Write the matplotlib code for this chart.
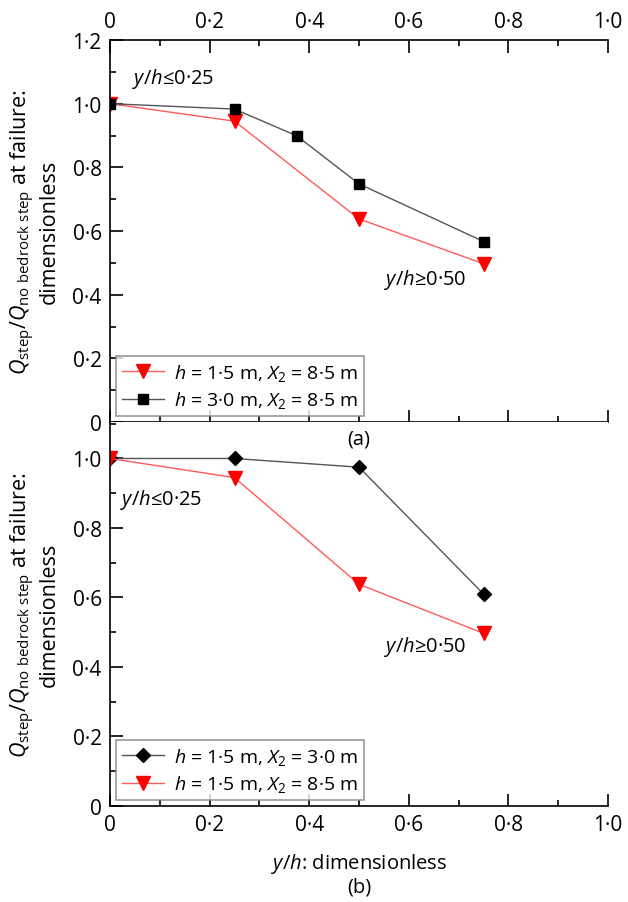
import matplotlib
matplotlib.use("Agg")
import matplotlib.pyplot as plt
from matplotlib.ticker import MultipleLocator, FuncFormatter

plt.rcParams['font.family'] = ['Open Sans', 'DejaVu Sans']
plt.rcParams['mathtext.fontset'] = 'custom'
plt.rcParams['mathtext.rm'] = 'Open Sans'
plt.rcParams['mathtext.it'] = 'Open Sans:italic'
plt.rcParams['font.size'] = 15

# panel (a)
a_x_red = [0, 0.25, 0.5, 0.75]
a_y_red = [1.0, 0.945, 0.638, 0.497]
a_x_blk = [0, 0.25, 0.375, 0.5, 0.75]
a_y_blk = [1.0, 0.983, 0.899, 0.748, 0.567]
a_labels = [r'$h$ = 1·5 m, $X_2$ = 8·5 m', r'$h$ = 3·0 m, $X_2$ = 8·5 m']

# panel (b)
b_x_dia = [0, 0.25, 0.5, 0.75]
b_y_dia = [1.0, 1.0, 0.975, 0.61]
b_x_red = [0, 0.25, 0.5, 0.75]
b_y_red = [1.0, 0.945, 0.638, 0.497]
b_labels = [r'$h$ = 1·5 m, $X_2$ = 3·0 m', r'$h$ = 1·5 m, $X_2$ = 8·5 m']

ylab = '$Q_{\\rm step}/Q_{\\rm no\\ bedrock\\ step}$ at failure:\ndimensionless'


def fmt(v, pos):
    if abs(v) < 1e-9:
        return '0'
    return ('%.1f' % v).replace('.', '·')


fig = plt.figure(figsize=(6.28, 9.03), dpi=100)
L, W = 110 / 628, 498 / 628
ax1 = fig.add_axes([L, 1 - 423 / 903, W, (423 - 41) / 903])
ax2 = fig.add_axes([L, 1 - 807 / 903, W, (807 - 423) / 903])

red_line = dict(color='#ff5a5a', lw=1.0, marker='v', ms=10, mfc='red', mec='red')
blk_line = dict(color='#555555', lw=1.0, marker='s', ms=7.5, mfc='black', mec='black')
dia_line = dict(color='#555555', lw=1.0, marker='D', ms=7, mfc='black', mec='black')

ax1.plot(a_x_red, a_y_red, label=a_labels[0], **red_line)
ax1.plot(a_x_blk, a_y_blk, label=a_labels[1], **blk_line)
ax2.plot(b_x_dia, b_y_dia, label=b_labels[0], **dia_line)
ax2.plot(b_x_red, b_y_red, label=b_labels[1], **red_line)

ax1.set_ylim(0, 1.2)
ax2.set_ylim(0, 1.105)

for ax in (ax1, ax2):
    ax.set_xlim(0, 1.0)
    ax.xaxis.set_major_locator(MultipleLocator(0.2))
    ax.xaxis.set_minor_locator(MultipleLocator(0.1))
    ax.yaxis.set_major_locator(MultipleLocator(0.2))
    ax.yaxis.set_minor_locator(MultipleLocator(0.1))
    ax.xaxis.set_major_formatter(FuncFormatter(fmt))
    ax.yaxis.set_major_formatter(FuncFormatter(fmt))
    ax.spines['right'].set_visible(False)
    for s in ax.spines.values():
        s.set_linewidth(1.2)
    ax.tick_params(which='both', direction='in', width=1.2, labelsize=15)
    ax.tick_params(which='major', length=9, pad=6)
    ax.tick_params(which='minor', length=4.5)
    ax.set_ylabel(ylab, fontsize=15.5, linespacing=1.15)
    ax.yaxis.set_label_coords(-0.1, 0.5)
    leg = ax.legend(loc='lower left', frameon=True, fancybox=False,
                    edgecolor='#808080', handlelength=2.2, handletextpad=0.5,
                    fontsize=14, borderaxespad=0.3, labelspacing=0.35,
                    borderpad=0.3)
    leg.get_frame().set_linewidth(1.2)

ax1.tick_params(which='both', top=True, bottom=True, labeltop=True, labelbottom=False)
ax2.spines['top'].set_visible(False)
ax2.tick_params(which='both', top=False, bottom=True)

ax1.text(0.045, 1.065, r'$y/h$≤0·25', fontsize=14.5)
ax1.text(0.55, 0.435, r'$y/h$≥0·50', fontsize=14.5)
ax2.text(0.02, 0.87, r'$y/h$≤0·25', fontsize=14.5)
ax2.text(0.55, 0.445, r'$y/h$≥0·50', fontsize=14.5)

ax2.set_xlabel(r'$y/h$: dimensionless', fontsize=14.5, labelpad=11)
fig.text((110 + 608) / 2 / 628, 1 - 440 / 903, '(a)', ha='center', va='center', fontsize=14.5)
fig.text((110 + 608) / 2 / 628, 1 - 888 / 903, '(b)', ha='center', va='center', fontsize=14.5)

fig.savefig('out.png', dpi=100)
